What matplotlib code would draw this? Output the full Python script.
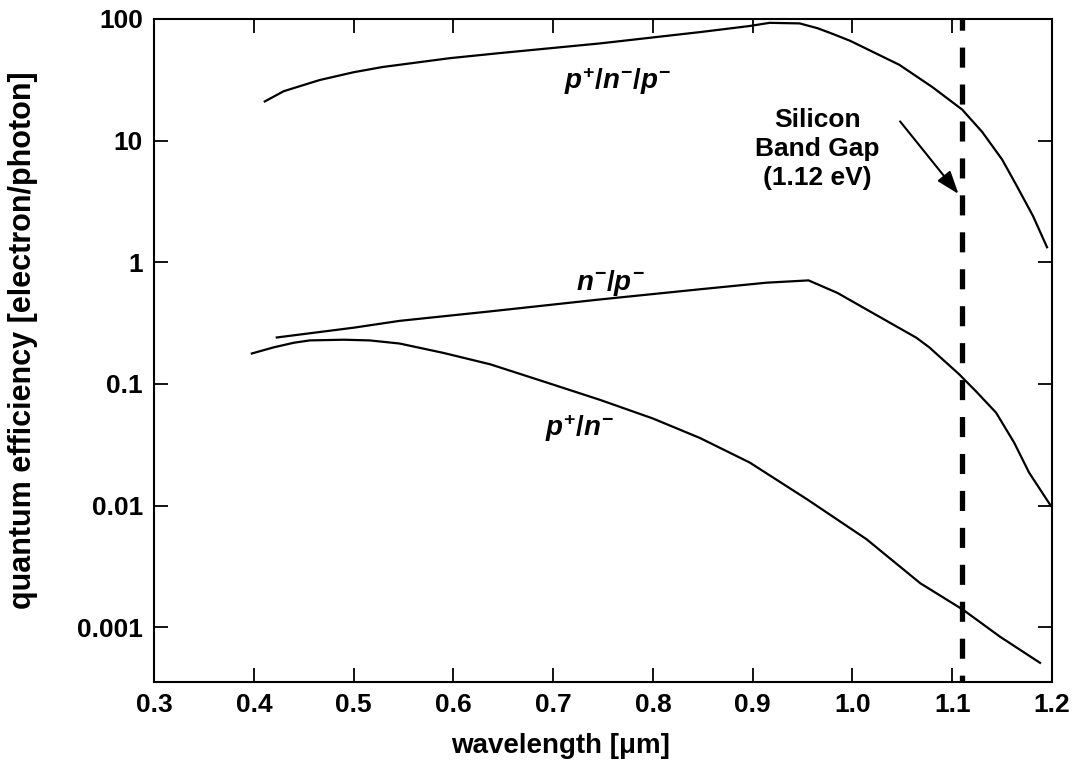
import matplotlib
matplotlib.use("Agg")
import matplotlib.pyplot as plt
from matplotlib.ticker import FixedLocator, FixedFormatter, NullLocator

plt.rcParams['font.family'] = ['Liberation Sans', 'DejaVu Sans']
plt.rcParams['mathtext.fontset'] = 'custom'
plt.rcParams['mathtext.it'] = 'Liberation Sans:italic:bold'
plt.rcParams['mathtext.rm'] = 'Liberation Sans:bold'
plt.rcParams['mathtext.bf'] = 'Liberation Sans:bold'

# p+/n-/p- curve
x_pnp = [0.411, 0.43, 0.466, 0.50, 0.529, 0.597, 0.647, 0.747, 0.847, 0.897, 0.917,
         0.947, 0.965, 0.981, 0.998, 1.047, 1.08, 1.11, 1.13, 1.15, 1.165, 1.181, 1.195]
y_pnp = [21.0, 25.5, 31.5, 36.5, 40.3, 47.7, 52.5, 63.0, 78.0, 87.6, 93.0,
         92.0, 84.0, 75.0, 66.0, 42.0, 27.6, 18.0, 11.8, 7.0, 4.2, 2.4, 1.33]

# n-/p- curve
x_np = [0.423, 0.50, 0.546, 0.637, 0.747, 0.847, 0.914, 0.956, 0.985, 1.014, 1.064,
        1.077, 1.107, 1.125, 1.144, 1.162, 1.177, 1.198]
y_np = [0.241, 0.29, 0.33, 0.395, 0.495, 0.60, 0.68, 0.71, 0.56, 0.41, 0.24,
        0.20, 0.12, 0.085, 0.058, 0.033, 0.0187, 0.0102]

# p+/n- curve
x_pn = [0.398, 0.42, 0.44, 0.456, 0.49, 0.516, 0.546, 0.59, 0.637, 0.69, 0.747, 0.80,
        0.847, 0.897, 0.955, 1.014, 1.068, 1.111, 1.148, 1.188]
y_pn = [0.178, 0.20, 0.218, 0.228, 0.231, 0.228, 0.215, 0.18, 0.145, 0.105, 0.074, 0.052,
        0.036, 0.0226, 0.0112, 0.0053, 0.0023, 0.00139, 0.000835, 0.00051]

x_ticks = [0.3, 0.4, 0.5, 0.6, 0.7, 0.8, 0.9, 1.0, 1.1, 1.2]
x_ticklabels = ['0.3', '0.4', '0.5', '0.6', '0.7', '0.8', '0.9', '1.0', '1.1', '1.2']
y_ticks = [0.001, 0.01, 0.1, 1, 10, 100]
y_ticklabels = ['0.001', '0.01', '0.1', '1', '10', '100']

band_gap_wl = 1.11

fig = plt.figure(figsize=(10.75, 7.63), dpi=100)
ax = fig.add_axes([0.1433, 0.1062, 0.8353, 0.8689])

for xs, ys in [(x_pnp, y_pnp), (x_np, y_np), (x_pn, y_pn)]:
    ax.plot(xs, ys, color='black', lw=1.6)

ax.axvline(band_gap_wl, color='black', lw=3.8, linestyle=(2.5, (3.8, 3.2)))

ax.set_yscale('log')
ax.set_xlim(0.3, 1.2)
ax.set_ylim(0.000355, 100)

ax.xaxis.set_major_locator(FixedLocator(x_ticks))
ax.xaxis.set_major_formatter(FixedFormatter(x_ticklabels))
ax.yaxis.set_major_locator(FixedLocator(y_ticks))
ax.yaxis.set_major_formatter(FixedFormatter(y_ticklabels))
ax.yaxis.set_minor_locator(NullLocator())
ax.xaxis.set_minor_locator(NullLocator())

ax.tick_params(which='major', direction='in', length=10, width=1.3,
               top=True, right=True, labelsize=19, pad=8)
for lab in ax.get_xticklabels() + ax.get_yticklabels():
    lab.set_fontweight('bold')
for sp in ax.spines.values():
    sp.set_linewidth(1.5)

ax.set_xlabel('wavelength [\u03bcm]', fontsize=20, fontweight='bold')
ax.xaxis.set_label_coords(0.453, -0.077)
ax.set_ylabel('quantum efficiency [electron/photon]', fontsize=22, fontweight='bold')
ax.yaxis.set_label_coords(-0.129, 0.516)

ax.text(0.765, 31, r'$p^{+}/n^{-}/p^{-}$', fontsize=20, ha='center', va='center')
ax.text(0.757, 0.68, r'$n^{-}/p^{-}$', fontsize=20, ha='center', va='center')
ax.text(0.727, 0.043, r'$p^{+}/n^{-}$', fontsize=20, ha='center', va='center')

ax.text(0.965, 8.5, 'Silicon\nBand Gap\n(1.12 eV)', fontsize=19, fontweight='bold',
        ha='center', va='center', linespacing=1.25)

ax.annotate('', xy=(1.108, 3.5), xytext=(1.046, 15),
            arrowprops=dict(arrowstyle='-|>,head_length=1.4,head_width=0.5',
                            color='black', lw=1.5))

fig.savefig('out.png', dpi=100)
